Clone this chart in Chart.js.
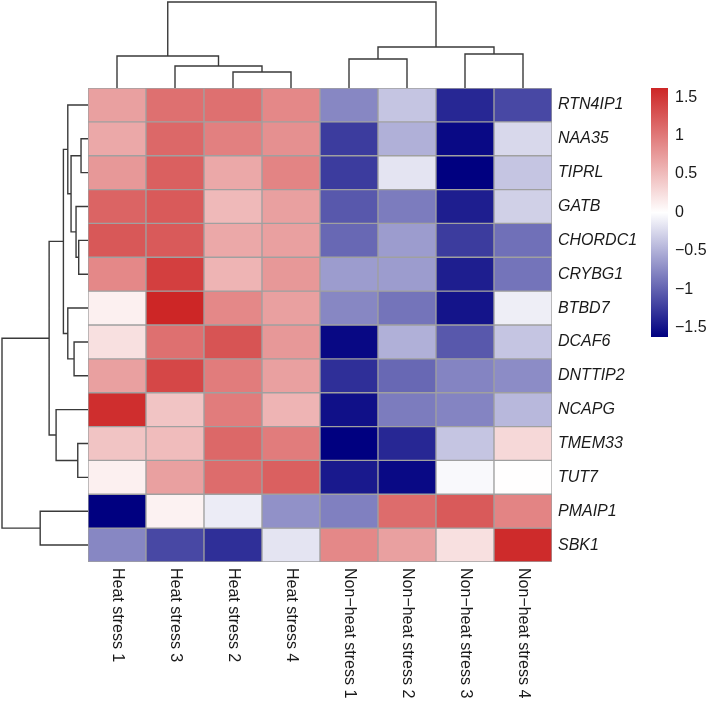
<!DOCTYPE html>
<html>
<head>
<meta charset="utf-8">
<title>Heatmap</title>
<script src="https://cdn.jsdelivr.net/npm/chart.js"></script>
<style>
    html, body { margin: 0; padding: 0; background: #ffffff; }
    #wrap { width: 708px; height: 703px; }
</style>
</head>
<body>
<div id="wrap"><canvas id="heatmap" width="708" height="703"></canvas></div>
<script>
// Samples, in the order they are shown (left to right)
const samples = ['Heat stress 1', 'Heat stress 3', 'Heat stress 2', 'Heat stress 4',
    'Non\u2212heat stress 1', 'Non\u2212heat stress 2', 'Non\u2212heat stress 3', 'Non\u2212heat stress 4'];

// Genes, in the order they are shown (top to bottom)
const genes = ['RTN4IP1', 'NAA35', 'TIPRL', 'GATB', 'CHORDC1', 'CRYBG1', 'BTBD7',
    'DCAF6', 'DNTTIP2', 'NCAPG', 'TMEM33', 'TUT7', 'PMAIP1', 'SBK1'];

// Row z-scores, one line per gene, columns follow `samples`
const zScores = [
    [0.71, 1.07, 1.07, 0.89, -0.76, -0.37, -1.37, -1.16],
    [0.65, 1.13, 0.95, 0.83, -1.24, -0.50, -1.56, -0.25],
    [0.77, 1.19, 0.65, 0.92, -1.24, -0.17, -1.62, -0.37],
    [1.16, 1.23, 0.52, 0.71, -1.06, -0.83, -1.43, -0.30],
    [1.25, 1.23, 0.65, 0.71, -0.96, -0.63, -1.24, -0.91],
    [0.89, 1.43, 0.56, 0.77, -0.63, -0.63, -1.43, -0.88],
    [0.11, 1.62, 0.89, 0.71, -0.76, -0.88, -1.49, -0.11],
    [0.23, 1.07, 1.28, 0.77, -1.57, -0.50, -1.06, -0.37],
    [0.71, 1.37, 0.98, 0.71, -1.32, -0.96, -0.78, -0.73],
    [1.56, 0.44, 0.98, 0.56, -1.52, -0.83, -0.78, -0.45],
    [0.44, 0.50, 1.13, 0.98, -1.62, -1.37, -0.37, 0.29],
    [0.11, 0.71, 1.10, 1.19, -1.46, -1.56, -0.04, 0.01],
    [-1.62, 0.10, -0.12, -0.70, -0.81, 1.10, 1.23, 0.92],
    [-0.76, -1.16, -1.32, -0.17, 0.89, 0.71, 0.23, 1.58]
];

// Legend ticks and colour range
const legendTicks = [1.5, 1, 0.5, 0, -0.5, -1, -1.5];
const colorLimit = 1.62;

// Dendrograms, hclust style: negative = leaf (-(index+1)), positive = earlier merge (1-based)
const colMerges = [[-3, -4], [-2, 1], [-1, 2], [-5, -6], [-7, -8], [4, 5], [3, 6]];
const colHeights = [0.186, 0.256, 0.372, 0.337, 0.395, 0.477, 1.0];
const rowMerges = [[-2, -3], [-5, -6], [-4, 2], [1, 3], [-1, 4], [-8, -9], [-7, 6], [5, 7],
    [-11, -12], [-10, 9], [8, 10], [-13, -14], [11, 12]];
const rowHeights = [0.081, 0.108, 0.139, 0.197, 0.235, 0.162, 0.235, 0.286, 0.119, 0.371, 0.452, 0.556, 1.0];

const FONT = '"Liberation Sans", Arial, Helvetica, sans-serif';
const NAVY = [0, 0, 128];
const WHITE = [255, 255, 255];
const FIREBRICK = [205, 38, 38];

function mix(a, b, t) {
    return 'rgb(' + a.map((c, i) => Math.round(c + (b[i] - c) * t)).join(',') + ')';
}

function heatColor(v) {
    const t = Math.max(-1, Math.min(1, v / colorLimit));
    return t < 0 ? mix(WHITE, NAVY, -t) : mix(WHITE, FIREBRICK, t);
}

// Walk a merge table and call draw for every link
function walkTree(merges, heights, leafPos) {
    const nodes = [];
    const child = (id) => id < 0 ? { pos: leafPos(-id - 1), h: 0 } : nodes[id - 1];
    const links = [];
    merges.forEach((m, k) => {
        const a = child(m[0]);
        const b = child(m[1]);
        const h = heights[k];
        links.push({ a, b, h });
        nodes.push({ pos: (a.pos + b.pos) / 2, h });
    });
    return links;
}

const extrasPlugin = {
    id: 'heatmapExtras',
    afterDraw(chart) {
        const ctx = chart.ctx;
        const area = chart.chartArea;
        const xs = chart.scales.x;
        const ys = chart.scales.y;
        ctx.save();

        // column dendrogram above the cells
        const colSpace = area.top - 2;
        const colY = (h) => area.top - h * colSpace;
        ctx.strokeStyle = '#3a3a3a';
        ctx.lineWidth = 1.4;
        ctx.beginPath();
        walkTree(colMerges, colHeights, (i) => xs.getPixelForValue(i)).forEach(l => {
            ctx.moveTo(l.a.pos, colY(l.a.h));
            ctx.lineTo(l.a.pos, colY(l.h));
            ctx.lineTo(l.b.pos, colY(l.h));
            ctx.lineTo(l.b.pos, colY(l.b.h));
        });
        ctx.stroke();

        // row dendrogram left of the cells
        const rowSpace = area.left - 2;
        const rowX = (h) => area.left - h * rowSpace;
        ctx.beginPath();
        walkTree(rowMerges, rowHeights, (i) => ys.getPixelForValue(i + 0.5)).forEach(l => {
            ctx.moveTo(rowX(l.a.h), l.a.pos);
            ctx.lineTo(rowX(l.h), l.a.pos);
            ctx.lineTo(rowX(l.h), l.b.pos);
            ctx.lineTo(rowX(l.b.h), l.b.pos);
        });
        ctx.stroke();

        // sample labels, turned clockwise
        ctx.fillStyle = '#1a1a1a';
        ctx.font = '16px ' + FONT;
        ctx.textAlign = 'left';
        ctx.textBaseline = 'middle';
        samples.forEach((s, i) => {
            ctx.save();
            ctx.translate(xs.getPixelForValue(i), area.bottom + 6);
            ctx.rotate(Math.PI / 2);
            ctx.fillText(s, 0, 0);
            ctx.restore();
        });

        // colour key
        const keyLeft = 651, keyWidth = 17, keyTop = 88, keyBottom = 337;
        const keyMid = (keyTop + keyBottom) / 2;
        const keyY = (v) => keyMid - v / colorLimit * (keyBottom - keyTop) / 2;
        const grad = ctx.createLinearGradient(0, keyTop, 0, keyBottom);
        grad.addColorStop(0, heatColor(colorLimit));
        grad.addColorStop(0.5, heatColor(0));
        grad.addColorStop(1, heatColor(-colorLimit));
        ctx.fillStyle = grad;
        ctx.fillRect(keyLeft, keyTop, keyWidth, keyBottom - keyTop);

        ctx.fillStyle = '#1a1a1a';
        legendTicks.forEach(v => {
            const txt = v < 0 ? '\u2212' + Math.abs(v) : String(v);
            ctx.fillText(txt, keyLeft + keyWidth + 7, keyY(v));
        });
        ctx.restore();
    }
};

const datasets = genes.map((g, i) => ({
    label: g,
    data: samples.map(() => 1),
    backgroundColor: zScores[i].map(heatColor),
    borderColor: '#a0a0a0',
    borderWidth: 1,
    borderSkipped: false,
    categoryPercentage: 1,
    barPercentage: 1
}));

new Chart(document.getElementById('heatmap'), {
    type: 'bar',
    data: { labels: samples, datasets },
    plugins: [extrasPlugin],
    options: {
        responsive: false,
        animation: false,
        layout: { padding: { left: 88, top: 88, right: 0, bottom: 141 } },
        plugins: {
            legend: { display: false },
            tooltip: { enabled: false }
        },
        scales: {
            x: {
                stacked: true,
                display: false
            },
            y: {
                stacked: true,
                reverse: true,
                min: 0,
                max: genes.length,
                position: 'right',
                grid: { display: false, drawTicks: false },
                border: { display: false },
                afterBuildTicks: (axis) => {
                    axis.ticks = genes.map((g, i) => ({ value: i + 0.5 }));
                },
                afterFit: (axis) => { axis.width = 156; },
                ticks: {
                    autoSkip: false,
                    padding: 6,
                    color: '#1a1a1a',
                    font: { family: FONT, size: 16, style: 'italic' },
                    callback: (value) => genes[Math.floor(value)]
                }
            }
        }
    }
});
</script>
</body>
</html>
